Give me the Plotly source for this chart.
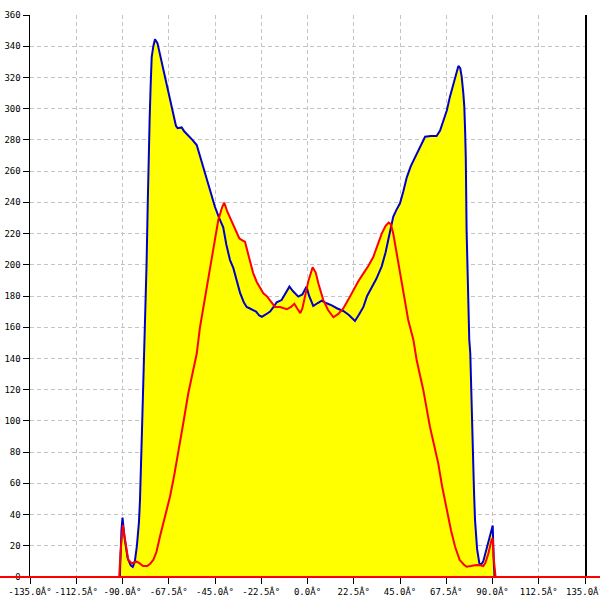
import plotly.graph_objects as go

# ---- data ----
blue_angle = [-135, -92, -91.3, -90.5, -90, -89, -87.5, -86, -85, -84, -83, -82, -81.5, -80.5,
              -79.1, -78.3, -77.7, -77.3, -76.8, -76.3, -75.8, -75, -74.2, -73, -71.8, -70,
              -68.5, -66.5, -65.3, -64, -63.2, -61.2, -60, -58, -56, -53.9, -51.5, -49, -47,
              -45, -43, -41, -39.5, -37.7, -36.1, -34.5, -32.8, -31, -29.6, -28, -26.4, -25,
              -23.5, -22.2, -20.5, -18.2, -16.5, -15, -12.6, -11, -8.8, -7, -4.5, -2.5, -0.5,
              0.8, 2.8, 5, 6.9, 9, 11.8, 14.5, 17.4, 20, 23.1, 25, 27.2, 29, 31.2, 33.5, 36.1,
              38, 39.3, 41.7, 43.2, 45, 46.6, 48.3, 50.2, 52.3, 54.5, 57.2, 60, 62.8, 64.5,
              66.1, 67.8, 69.3, 71, 72.5, 73.4, 74.3, 75, 75.8, 76.3, 76.7, 77, 77.4, 78, 78.7,
              79.2, 79.8, 80.4, 81, 81.5, 82.5, 83.6, 84.5, 85.5, 86.5, 87.2, 88.5, 90.1, 90.6,
              91, 135]
blue_value = [0, 0, 0, 30, 38, 25, 12, 7.5, 6.5, 10, 20, 35, 49, 95,
              158, 200, 240, 270, 293, 315, 333, 340, 344.5, 342, 335, 324,
              314, 302, 295, 289, 287.5, 288, 285.5, 283, 280, 276.7, 266, 256, 246,
              237, 230, 224, 213, 203, 198, 190, 182, 176, 173, 172, 171, 170,
              167.5, 166.7, 168, 170, 173, 176, 177.4, 181, 186, 183, 179.6, 181, 186,
              180, 173.6, 175.5, 177, 175.5, 174, 172, 170.4, 168, 164, 168, 173, 180, 185, 191, 199,
              208, 216, 230.8, 235, 239.4, 247, 256, 263, 269, 275, 282, 282.5, 282.5, 286,
              291.7, 299, 307.7, 316, 324, 327.4, 326, 320.5, 310, 301, 285, 269, 222, 185, 152,
              143, 110, 79, 55, 36.5, 18, 8.8, 8, 10, 15, 19, 25, 33, 10,
              0, 0]

red_angle = [-135, -92, -91.6, -91, -90.2, -89.8, -89, -88, -87.2, -85.5, -84, -83.1, -82, -80,
             -78, -76.5, -75, -73.5, -71.8, -69.5, -67.7, -66.9, -65, -62.9, -60.5, -58, -56,
             -53.9, -52.3, -50, -47.4, -45.5, -43.4, -41.5, -40.5, -39, -36.9, -35, -33.2,
             -31.5, -30.4, -28.5, -26.5, -24.7, -23, -21.5, -19.9, -17.4, -15.8, -13.4, -11.5,
             -10.1, -8, -6.4, -5, -3.5, -2.5, -1, 0.5, 2.5, 4, 5.3, 7.7, 10, 12.6, 15, 17.4,
             20, 22.3, 24.5, 27.2, 29.5, 32, 34, 36.1, 38, 39.5, 40.5, 41.7, 43.3, 45, 46.6,
             48.2, 49, 51.5, 53.1, 56.3, 59.6, 61.5, 63.6, 65.5, 67.7, 69.8, 71.8, 74, 76,
             77.4, 79.5, 82.3, 84, 85.5, 86.5, 88, 89.6, 90.1, 90.6, 91.2, 91.5, 135]
red_value = [0, 0, 0, 15, 30, 33.3, 26, 16, 11, 8.8, 9.5, 9.8, 9, 7,
             7, 8.5, 11, 16, 25.8, 37, 47, 51.4, 64, 79, 98, 117.7, 130,
             143, 160, 178, 196.7, 212, 228.7, 237, 239.8, 234, 227.6, 222, 217,
             215.5, 214.8, 205, 195, 189, 185, 181.7, 180, 176, 173, 173, 172,
             171.5, 173, 175, 172, 169, 172, 181, 190, 198.4, 195, 188, 177.4, 171, 166.4, 168.5, 172,
             178, 184, 189, 194.5, 199, 205, 212, 220, 225, 227, 226, 220, 208, 194.5, 184,
             171, 164.6, 152, 139, 120, 96, 85, 72.8, 58, 43, 30, 19.4, 11, 8,
             6.6, 7, 7.7, 7.5, 7, 9, 15, 24, 24.8, 12, 2, 0, 0]

x_ticks = [-135, -112.5, -90, -67.5, -45, -22.5, 0, 22.5, 45, 67.5, 90, 112.5, 135]
x_tick_labels = ["%.1fÂ°" % v for v in x_ticks]
y_ticks = list(range(0, 361, 20))

YELLOW = "#ffff00"
BLUE = "#0000c8"
RED = "#ff0000"

fig = go.Figure()
# yellow fills (drawn first)
fig.add_trace(go.Scatter(x=blue_angle, y=blue_value, mode="lines", fill="tozeroy",
                         fillcolor=YELLOW, line=dict(width=0), hoverinfo="skip"))
fig.add_trace(go.Scatter(x=red_angle, y=red_value, mode="lines", fill="tozeroy",
                         fillcolor=YELLOW, line=dict(width=0), hoverinfo="skip"))
# outlines
fig.add_trace(go.Scatter(x=blue_angle, y=blue_value, mode="lines",
                         line=dict(color=BLUE, width=2)))
fig.add_trace(go.Scatter(x=red_angle, y=red_value, mode="lines",
                         line=dict(color=RED, width=2)))

W = H = 600
ML, MR, MT, MB = 30, 15, 15, 23
PW = W - ML - MR

# red zero baseline running across the whole canvas width (paper coords, unclipped)
fig.add_shape(type="line", xref="paper", yref="paper", x0=-ML / PW, x1=1 + MR / PW,
              y0=0, y1=0, line=dict(color=RED, width=2), layer="above")

tick_font = dict(family="DejaVu Sans Mono", size=9, color="#000000")
fig.update_layout(
    width=W, height=H,
    margin=dict(l=ML, r=MR, t=MT, b=MB),
    plot_bgcolor="white", paper_bgcolor="white",
    showlegend=False,
    xaxis=dict(range=[-135, 135], tickvals=x_ticks, ticktext=x_tick_labels,
               showgrid=True, gridcolor="#c4c4c4", griddash="4px,3px", gridwidth=1,
               showline=True, linecolor="black", linewidth=1,
               ticks="outside", ticklen=6, tickcolor="black", automargin=False,
               ticklabeloverflow="allow",
               tickfont=tick_font, zeroline=False, fixedrange=True),
    yaxis=dict(range=[0, 360], tickvals=y_ticks,
               showgrid=True, gridcolor="#c4c4c4", griddash="4px,3px", gridwidth=1,
               showline=True, linecolor="black", linewidth=1.5, mirror=True,
               ticks="outside", ticklen=6, tickcolor="black", automargin=False,
               ticklabeloverflow="allow",
               tickfont=tick_font, zeroline=False, fixedrange=True),
)

# remove the browser's default 8px page margin so the 600x600 figure fills the window
fig.write_html("out.html",
               config={"displayModeBar": False, "staticPlot": True},
               post_script="document.body.style.margin='0';document.body.style.overflow='hidden';")
